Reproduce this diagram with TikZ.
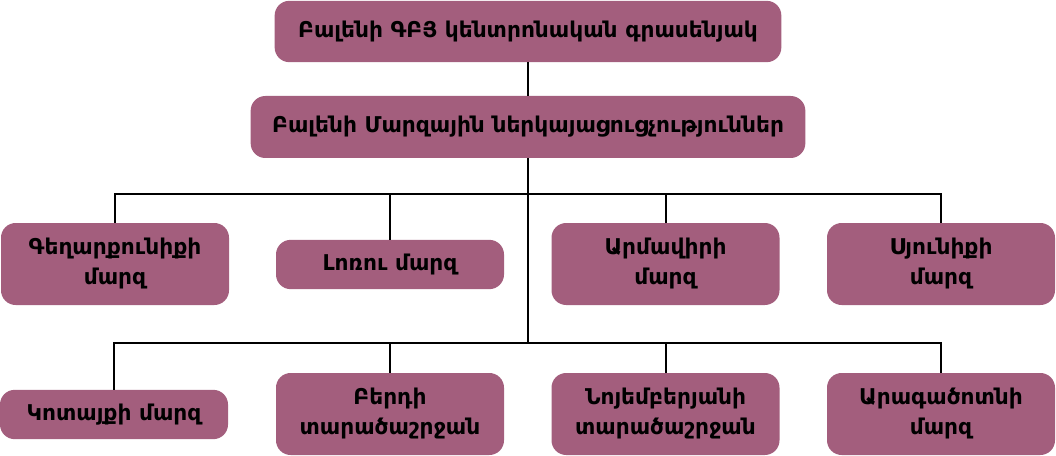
\documentclass[tikz,border=0pt]{standalone}
\usepackage{fontspec}
\setmainfont{DejaVu Sans}
\newfontfamily\armfont[Script=Armenian]{DejaVu Sans}
\definecolor{boxfill}{HTML}{A35E7D}
\begin{document}
\begin{tikzpicture}[x=0.75pt,y=-0.75pt,
  box/.style={draw=none,fill=boxfill,rounded corners=11pt,align=center,
    font=\armfont\bfseries\fontsize{16.3}{22.5}\selectfont,inner sep=0pt,text=black},
  tall/.style={box,minimum width=171pt,minimum height=61.5pt},
  short/.style={box,minimum width=171pt,minimum height=37pt},
  conn/.style={draw=black,line width=1.5pt}]
\useasboundingbox (0,0) rectangle (1056,456);
\node[box,minimum width=380pt,minimum height=46pt] (top) at (528,31.5) {Բալենի ԳԲՅ կենտրոնական գրասենյակ};
\node[box,minimum width=416pt,minimum height=46.5pt] (reg) at (528,127) {Բալենի Մարզային ներկայացուցչություններ};
\node[tall] (a1) at (115,264) {Գեղարքունիքի\\մարզ};
\node[short] (a2) at (390,264.5) {Լոռու մարզ};
\node[tall] (a3) at (665.5,264) {Արմավիրի\\մարզ};
\node[tall] (a4) at (941,264) {Սյունիքի\\մարզ};
\node[short] (b1) at (114,414.5) {Կոտայքի մարզ};
\node[tall] (b2) at (390,414) {Բերդի\\տարածաշրջան};
\node[tall] (b3) at (665.5,414) {Նոյեմբերյանի\\տարածաշրջան};
\node[tall] (b4) at (941,414) {Արագածոտնի\\մարզ};
\coordinate (j1) at (528,194);
\coordinate (j2) at (528,343);
\draw[conn] (top.south) -- (reg.north);
\draw[conn] (reg.south) -- (j2);
\draw[conn] (a1.north) -- (a1.north |- j1) -- (a4.north |- j1) -- (a4.north);
\draw[conn] (a2.north) -- (a2.north |- j1);
\draw[conn] (a3.north) -- (a3.north |- j1);
\draw[conn] (b1.north) -- (b1.north |- j2) -- (b4.north |- j2) -- (b4.north);
\draw[conn] (b2.north) -- (b2.north |- j2);
\draw[conn] (b3.north) -- (b3.north |- j2);
\end{tikzpicture}
\end{document}
